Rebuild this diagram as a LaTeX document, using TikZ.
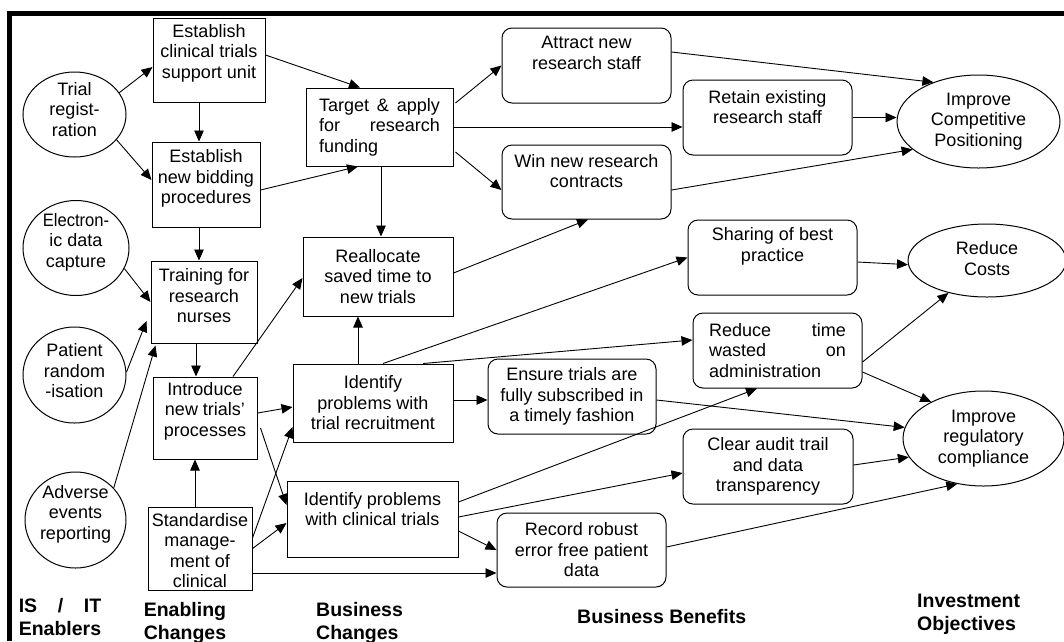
\documentclass[tikz,border=0pt]{standalone}
\usepackage{fontspec}
\setmainfont{Liberation Sans}
\usepackage{calc}
\usetikzlibrary{arrows.meta,shapes.geometric}
\newcommand{\bt}[4]{\parbox[c][#2][c]{#1}{\centering #4\par\vspace*{#3}}}
\tikzset{
 every node/.style={font=\fontsize{18}{20.5}\selectfont},
 bx/.style={draw, rectangle, inner sep=0pt, line width=1pt},
 rb/.style={bx, rounded corners=10pt},
 el/.style={draw, ellipse, inner sep=0pt, line width=1pt},
 hd/.style={anchor=base west, inner sep=0pt, font=\fontsize{19.5}{23}\bfseries\selectfont},
 ar/.style={line width=0.9pt, -{Triangle[length=11pt,width=9.5pt]}},
}
\begin{document}
\begin{tikzpicture}[x=1pt,y=-1pt]
\useasboundingbox (0,0) rectangle (1064,641);
\draw[line width=4.3pt] (9.5,641) -- (9.5,13.5) -- (1064,13.5);
% IS/IT enablers
\node[el, minimum width=103pt, minimum height=85pt] (tr) at (74.5,114.5) {\bt{72pt}{59pt}{10pt}{Trial\\regist-\\ration}};
\node[el, minimum width=106pt, minimum height=95pt] (ed) at (76,248) {\bt{74pt}{66pt}{12pt}{\scalebox{0.92}[1]{Electron-}\\ic data\\capture}};
\node[el, minimum width=103pt, minimum height=96pt] (pr) at (74.5,375) {\bt{72pt}{67pt}{8pt}{Patient\\random\\-isation}};
\node[el, minimum width=101pt, minimum height=96pt] (ae) at (75.5,520) {\bt{71pt}{67pt}{12pt}{Adverse\\events\\reporting}};
% enabling changes
\node[bx] (su) at (209,60) {\bt{112pt}{84pt}{14pt}{Establish\\clinical trials\\support unit}};
\node[bx] (bid) at (206,184.5) {\bt{108pt}{85pt}{12pt}{Establish\\new bidding\\procedures}};
\node[bx] (tn) at (204,302) {\bt{106pt}{82pt}{12pt}{Training for\\research\\nurses}};
\node[bx] (intro) at (205,418) {\bt{104pt}{82pt}{14pt}{Introduce\\new trials'\\processes}};
\node[bx] (std) at (200,548.5) {\bt{104pt}{83pt}{-4pt}{Standardise\\manage-\\ment of\\clinical}};
% business changes
\node[bx] (tg) at (379.5,127) {\bt{147pt}{78pt}{0pt}{\makebox[121pt][s]{Target \& apply}\\\makebox[121pt][s]{for research}\\\makebox[121pt][l]{funding}}};
\node[bx] (ra) at (378,276.5) {\bt{150pt}{79pt}{0pt}{Reallocate\\saved time to\\new trials}};
\node[bx] (ir) at (373,403) {\bt{160pt}{78pt}{0pt}{Identify\\problems with\\trial recruitment}};
\node[bx] (ic) at (372.5,519) {\bt{171pt}{76pt}{20pt}{Identify problems\\with clinical trials}};
% business benefits
\node[rb] (at) at (586.5,65.5) {\bt{169pt}{75pt}{25pt}{Attract new\\research staff}};
\node[rb] (win) at (586.5,182) {\bt{169pt}{74pt}{22pt}{Win new research\\contracts}};
\node[rb] (ret) at (767.5,117.5) {\bt{169pt}{75pt}{21pt}{Retain existing\\research staff}};
\node[rb] (sh) at (772.5,257.5) {\bt{169pt}{75pt}{22pt}{Sharing of best\\practice}};
\node[rb] (rt) at (777.5,350.5) {\bt{169pt}{75pt}{0pt}{\makebox[137pt][s]{Reduce time}\\\makebox[137pt][s]{wasted on}\\\makebox[137pt][l]{administration}}};
\node[rb] (en) at (572,396.5) {\bt{168pt}{75pt}{0pt}{Ensure trials are\\fully subscribed in\\a timely fashion}};
\node[rb] (ca) at (768,466.5) {\bt{170pt}{75pt}{0pt}{Clear audit trail\\and data\\transparency}};
\node[rb] (rec) at (581.5,550) {\bt{169pt}{74pt}{0pt}{Record robust\\error free patient\\data}};
% investment objectives
\node[el, minimum width=163pt, minimum height=93pt] (icp) at (978.5,121.5) {\bt{114pt}{65pt}{0pt}{Improve\\Competitive\\Positioning}};
\node[el, minimum width=158pt, minimum height=73pt] (rc) at (987,260.5) {\bt{110pt}{51pt}{4pt}{Reduce\\Costs}};
\node[el, minimum width=161pt, minimum height=95pt] (irc) at (983.5,438.5) {\bt{112pt}{66pt}{0pt}{Improve\\regulatory\\compliance}};
% column headings
\node[hd] (h1) at (18.6,612) {\parbox[t]{90pt}{\makebox[\widthof{Enablers}][s]{IS / IT}\\Enablers}};
\node[hd] (h2) at (143.6,616) {\parbox[t]{100pt}{Enabling\\Changes}};
\node[hd] (h3) at (316,616) {\parbox[t]{100pt}{Business\\Changes}};
\node[hd] (h4) at (577,623) {Business Benefits};
\node[hd] (h5) at (917,607) {\parbox[t]{110pt}{Investment\\Objectives}};
% connectors
\draw[ar] (tr.26) -- ([yshift=-7pt]su.west);
\draw[ar] (tr.-31) -- ([yshift=4.5pt]bid.west);
\draw[ar] ([xshift=-10pt]su.south) -- ([xshift=-10pt]su.south |- bid.north);
\draw[ar] ([xshift=-7pt]bid.south) -- ([xshift=-7pt]bid.south |- tn.north);
\draw[ar] (ed.-23) -- (tn.west);
\draw[ar] (pr.3) -- ([xshift=-4pt,yshift=-19pt]tn.west);
\draw[ar] (ae.40) -- ([xshift=5pt,yshift=-2pt]tn.south west);
\draw[ar] ([xshift=-8pt]tn.south) -- ([xshift=-8pt]tn.south |- intro.north);
\draw[ar] ([xshift=-5pt]std.north) -- ([xshift=-5pt]std.north |- intro.south);
\draw[ar] ([xshift=28pt]intro.north) -- ([yshift=-1.5pt]ra.west);
\draw[ar] ([yshift=5pt]intro.east) -- ([yshift=-4pt]ir.west);
\draw[ar] ([xshift=3pt,yshift=-10pt]intro.east) -- ([yshift=14pt]ic.west);
\draw[ar] ([yshift=10.5pt]std.east) -- ([yshift=-24pt]ir.west);
\draw[ar] (std.east) -- ([yshift=-4pt]ic.west);
\draw[ar] ([yshift=-24.5pt]std.east) -- ([yshift=-24.5pt]std.east -| rec.west);
\draw[ar] ([yshift=5pt]su.east) -- ([xshift=-19.5pt]tg.north);
\draw[ar] ([yshift=-5.5pt]bid.east) -- ([xshift=-21.5pt]tg.south);
\draw[ar] ([xshift=1.5pt]tg.south) -- ([xshift=1.5pt]tg.south |- ra.north);
\draw[ar] ([xshift=2pt,yshift=24pt]tg.east) -- (at.west);
\draw[ar] (tg.east) -- (tg.east -| ret.west);
\draw[ar] ([xshift=2pt,yshift=-25pt]tg.east) -- ([yshift=-8pt]win.west);
\draw[ar] ([yshift=3.5pt]ra.east) -- ([xshift=1.5pt]win.south);
\draw[ar] ([xshift=-15pt]ir.north) -- ([xshift=-15pt]ir.north |- ra.south);
\draw[ar] ([xshift=10pt]ir.north) -- (sh.west);
\draw[ar] ([xshift=50pt]ir.north) -- ([yshift=10.5pt]rt.west);
\draw[ar] ([yshift=3pt]ir.east) -- ([yshift=3pt]ir.east -| en.west);
\draw[ar] ([yshift=-3.5pt]en.east) -- (irc.172);
\draw[ar] ([yshift=17pt]ic.east) -- ([xshift=-20.5pt]rt.south);
\draw[ar] ([yshift=2pt]ic.east) -- ([yshift=-6.5pt]ca.west);
\draw[ar] ([yshift=-12pt]ic.east) -- (rec.west);
\draw[ar] ([yshift=3pt]rec.east) -- (irc.240);
\draw[ar] ([yshift=1.5pt]ca.east) -- (irc.194);
\draw[ar] ([yshift=-21.5pt]rt.east) -- (irc.145);
\draw[ar] ([yshift=-11.5pt]rt.east) -- (rc.220);
\draw[ar] ([yshift=-4.5pt]sh.east) -- (rc.183);
\draw[ar] ([yshift=13.5pt]at.east) -- (icp.139);
\draw[ar] (ret.east) -- (icp.west |- ret.east);
\draw[ar] ([yshift=-8pt]win.east) -- (icp.203);
\end{tikzpicture}
\end{document}
